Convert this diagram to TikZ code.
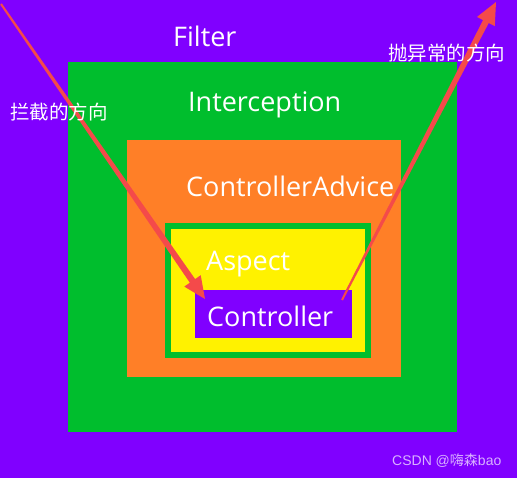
\documentclass[tikz,border=0pt]{standalone}
\usepackage{xcolor}
\usepackage{fontspec}
\setmainfont{Open Sans}
\newfontfamily\cjk{Noto Sans CJK SC}
\newfontfamily\wmfont{Liberation Sans}
\usetikzlibrary{calc}

\definecolor{bgpurple}{HTML}{8000FF}
\definecolor{layergreen}{HTML}{00BE2D}
\definecolor{layerorange}{HTML}{FF7F27}
\definecolor{layeryellow}{HTML}{FFF200}
\definecolor{arrowred}{HTML}{F44A4A}

\begin{document}
\begin{tikzpicture}[x=1pt,y=-1pt,
    layername/.style={text=white,inner sep=0pt,anchor=base west,font=\fontsize{27}{31}\selectfont},
    dirname/.style={text=white,inner sep=0pt,anchor=base west,font=\cjk\fontsize{19.5}{22}\selectfont}]
    % Background
    \fill[bgpurple] (0,0) rectangle (517,478);

    % Layers
    \fill[layergreen] (68,62) rectangle (457,432);
    \fill[layerorange] (127,140) rectangle (401,377);
    \fill[layergreen] (165,223) rectangle (371,358);
    \fill[layeryellow] (171,229) rectangle (365,352);
    \fill[bgpurple] (195,290) rectangle (352,338);

    % Intercept arrow
    \coordinate (ins) at (1,4);
    \coordinate (int) at (205,299);
    \coordinate (inb) at ($(int)!22pt!(ins)$);
    \fill[arrowred] ($(ins)!1pt!90:(int)$) -- ($(inb)!3.2pt!90:(int)$) -- ($(inb)!10pt!90:(int)$)
        -- (int) -- ($(inb)!10pt!-90:(int)$) -- ($(inb)!3.2pt!-90:(int)$) -- ($(ins)!1pt!-90:(int)$) -- cycle;

    % Exception arrow
    \coordinate (outs) at (342,300);
    \coordinate (outt) at (496,2);
    \coordinate (outb) at ($(outt)!22pt!(outs)$);
    \fill[arrowred] ($(outs)!1pt!90:(outt)$) -- ($(outb)!3.2pt!90:(outt)$) -- ($(outb)!10pt!90:(outt)$)
        -- (outt) -- ($(outb)!10pt!-90:(outt)$) -- ($(outb)!3.2pt!-90:(outt)$) -- ($(outs)!1pt!-90:(outt)$) -- cycle;

    % Layer names
    \node[layername] (filter) at (173,47) {Filter};
    \node[layername] (interception) at (188,112) {Interception};
    \node[layername] (advice) at (186,197) {ControllerAdvice};
    \node[layername] (aspect) at (206,271) {Aspect};
    \node[layername] (controller) at (207,327) {Controller};

    % Directions
    \node[dirname] (indir) at (10,120) {拦截的方向};
    \node[dirname] (outdir) at (388,61) {抛异常的方向};

    % Watermark
    \node[text=white!70!bgpurple,inner sep=0pt,anchor=base west,font=\wmfont\fontsize{14}{16}\selectfont]
        (mark) at (392,465) {CSDN @{\cjk 嗨森}bao};
\end{tikzpicture}
\end{document}
